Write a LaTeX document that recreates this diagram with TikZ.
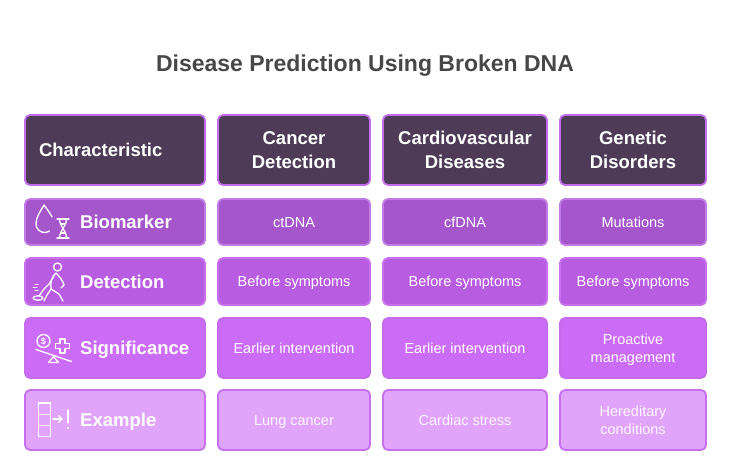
\documentclass[tikz,border=0pt]{standalone}
\usepackage{fontspec}
\setmainfont{Liberation Sans}
\definecolor{titlecol}{HTML}{474747}
\definecolor{hdrfill}{HTML}{4E3B57}
\definecolor{hdrline}{HTML}{C46CF0}
\definecolor{bfill}{HTML}{A456CA}
\definecolor{bline}{HTML}{C27AE8}
\definecolor{dfill}{HTML}{B85CE1}
\definecolor{dline}{HTML}{C871F0}
\definecolor{sfill}{HTML}{CB6CF7}
\definecolor{sline}{HTML}{C46BEE}
\definecolor{efill}{HTML}{E0A4FA}
\definecolor{eline}{HTML}{C670EE}
\definecolor{etext}{HTML}{FDF6FF}
\tikzset{
  cellbox/.style={rounded corners=5pt, line width=1.8pt, inner sep=0pt, align=center, text=white, text depth=0pt},
  hdr/.style={cellbox, fill=hdrfill, draw=hdrline, font=\bfseries\fontsize{18.5}{24}\selectfont},
  rowb/.style={cellbox, fill=bfill, draw=bline},
  rowd/.style={cellbox, fill=dfill, draw=dline},
  rows/.style={cellbox, fill=sfill, draw=sline},
  rowe/.style={cellbox, fill=efill, draw=eline, text=etext},
  body/.style={font=\fontsize{14.5}{18}\selectfont},
  one/.style={text height=10.4pt},
  lab/.style={anchor=west, inner sep=0pt, text=white, text height=13.3pt, text depth=0pt, font=\bfseries\fontsize{18.5}{24}\selectfont},
  icon/.style={draw=white, line width=1.3pt, line cap=round, line join=round},
}
\begin{document}
\begin{tikzpicture}[x=1pt,y=-1pt]
\useasboundingbox (0,0) rectangle (730,463);
\node[text=titlecol, font=\bfseries\fontsize{23}{28}\selectfont, inner sep=0pt, text height=16.5pt, text depth=0pt] (title) at (365,63) {Disease Prediction Using Broken DNA};

% header row
\node[hdr, minimum width=180pt, minimum height=70pt, text width=152pt, align=left, text height=13.3pt] (h0) at (115,150) {Characteristic};
\node[hdr, minimum width=152pt, minimum height=70pt] (h1) at (294,150) {Cancer\\Detection};
\node[hdr, minimum width=164pt, minimum height=70pt] (h2) at (465,150) {Cardiovascular\\Diseases};
\node[hdr, minimum width=146pt, minimum height=70pt] (h3) at (633,150) {Genetic\\Disorders};

% biomarker row
\node[rowb, minimum width=180pt, minimum height=46pt] (b0) at (115,222) {};
\node[rowb, body, one, minimum width=152pt, minimum height=46pt] (b1) at (294,222) {ctDNA};
\node[rowb, body, one, minimum width=164pt, minimum height=46pt] (b2) at (465,222) {cfDNA};
\node[rowb, body, one, minimum width=146pt, minimum height=46pt] (b3) at (633,222) {Mutations};
\node[lab] (bl) at (80,222) {Biomarker};

% detection row
\node[rowd, minimum width=180pt, minimum height=47pt] (d0) at (115,281.5) {};
\node[rowd, body, one, minimum width=152pt, minimum height=47pt] (d1) at (294,281.5) {Before symptoms};
\node[rowd, body, one, minimum width=164pt, minimum height=47pt] (d2) at (465,281.5) {Before symptoms};
\node[rowd, body, one, minimum width=146pt, minimum height=47pt] (d3) at (633,281.5) {Before symptoms};
\node[lab] (dl) at (80,281.5) {Detection};

% significance row
\node[rows, minimum width=180pt, minimum height=60pt] (s0) at (115,348) {};
\node[rows, body, one, minimum width=152pt, minimum height=60pt] (s1) at (294,348) {Earlier intervention};
\node[rows, body, one, minimum width=164pt, minimum height=60pt] (s2) at (465,348) {Earlier intervention};
\node[rows, body, minimum width=146pt, minimum height=60pt] (s3) at (633,348) {Proactive\\management};
\node[lab] (sl) at (80,348) {Significance};

% example row
\node[rowe, minimum width=180pt, minimum height=60pt] (e0) at (115,420) {};
\node[rowe, body, one, minimum width=152pt, minimum height=60pt] (e1) at (294,420) {Lung cancer};
\node[rowe, body, one, minimum width=164pt, minimum height=60pt] (e2) at (465,420) {Cardiac stress};
\node[rowe, body, minimum width=146pt, minimum height=60pt] (e3) at (633,420) {Hereditary\\conditions};
\node[lab] (el) at (80,420) {Example};

% biomarker icon: drop + DNA
\draw[icon] (44,205) .. controls (40,212) and (36,217) .. (36,224)
   arc[start angle=180, end angle=55, radius=8.5];
\draw[icon] (44,205) .. controls (47,209) and (50,213) .. (52,217);
\draw[icon] (57,219) -- (69,219) (57,238) -- (69,238);
\draw[icon] (59.5,219) .. controls (59.5,227) and (66.5,230) .. (66.5,238);
\draw[icon] (66.5,219) .. controls (66.5,227) and (59.5,230) .. (59.5,238);
\draw[icon] (60.5,224) -- (65.5,224) (60.5,233) -- (65.5,233);

% detection icon: walking person with detector
\draw[icon] (57.5,267) circle[radius=4];
\draw[icon] (56,273) .. controls (52,276) and (50,283) .. (51,289);
\draw[icon] (56,273) .. controls (60,277) and (63,281) .. (64,285) -- (61,288);
\draw[icon] (54,276) -- (49,284) -- (44,289);
\draw[icon] (51,289) -- (47,295) -- (44,301);
\draw[icon] (51,289) -- (59,294) -- (63,301);
\draw[icon] (44,289) -- (39,296);
\draw[icon] (38,298) ellipse[x radius=5, y radius=2.2];
\draw[icon, line width=1pt] (35,284) -- (38,284) (33,287) -- (37,287) (35,290) -- (38,290);

% significance icon: coin, plus, seesaw
\draw[icon] (43.5,341) circle[radius=6.5];
\node[text=white, font=\bfseries\fontsize{9}{9}\selectfont, inner sep=0pt] (dollar) at (43.5,341) {\$};
\draw[icon] (60,339) -- (65,339) -- (65,343.5) -- (69.5,343.5) -- (69.5,348.5) -- (65,348.5) -- (65,353) -- (60,353) -- (60,348.5) -- (55.5,348.5) -- (55.5,343.5) -- (60,343.5) -- cycle;
\draw[icon] (36,349.5) -- (71.5,361.5);
\draw[icon] (53.5,356.5) -- (48.5,362.5) -- (58.5,362.5) -- cycle;

% example icon: stacked boxes, arrow, exclamation
\draw[icon] (38.5,403) rectangle (50.5,436.5);
\draw[icon] (38.5,414.2) -- (50.5,414.2) (38.5,425.4) -- (50.5,425.4);
\draw[icon] (53,419) -- (62,419);
\draw[icon] (58.5,415.5) -- (62,419) -- (58.5,422.5);
\draw[icon] (68,410) -- (68,423);
\fill[white] (68,428) circle[radius=1.1];
\end{tikzpicture}
\end{document}
